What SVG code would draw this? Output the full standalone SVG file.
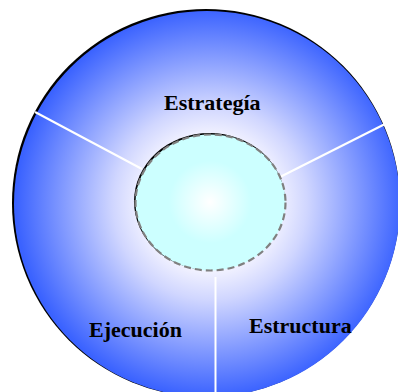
<svg xmlns="http://www.w3.org/2000/svg" width="398" height="392" viewBox="0 0 398 392">
<defs>
<radialGradient id="gOuter" gradientUnits="userSpaceOnUse" cx="210" cy="203" r="194">
<stop offset="0" stop-color="#ffffff"/>
<stop offset="0.35" stop-color="#f2f2ff"/>
<stop offset="0.5" stop-color="#d0d6ff"/>
<stop offset="1" stop-color="#3a62ff"/>
</radialGradient>
<radialGradient id="gInner" gradientUnits="userSpaceOnUse" cx="210" cy="202" r="75">
<stop offset="0" stop-color="#ffffff"/>
<stop offset="0.55" stop-color="#ccffff"/>
<stop offset="1" stop-color="#ccffff"/>
</radialGradient>
<style>
.lbl{font-family:"Liberation Serif","Times New Roman",serif;font-weight:bold;font-size:22px;fill:#000000}
.div{stroke:#ffffff;stroke-width:2;fill:none}
</style>
</defs>
<rect width="398" height="392" fill="#ffffff"/>
<g id="outer">
<circle cx="206" cy="203" r="194" fill="#000000"/>
<circle cx="207" cy="204" r="193" fill="url(#gOuter)"/>
</g>
<g id="connectors">
<line class="div" x1="35" y1="112" x2="142" y2="169"/>
<line class="div" x1="387" y1="123" x2="280" y2="177"/>
<line class="div" x1="215.5" y1="277" x2="215.5" y2="392"/>
</g>
<g id="inner">
<ellipse cx="209.5" cy="201.5" rx="75.5" ry="68.5" fill="#000000"/>
<ellipse cx="210.5" cy="202.5" rx="75" ry="68" fill="url(#gInner)" stroke="#808080" stroke-width="2.2" stroke-dasharray="7,4"/>
</g>
<g id="estrategia"><text class="lbl" x="164" y="110">Estrategía</text></g>
<g id="ejecucion"><text class="lbl" x="89" y="337">Ejecución</text></g>
<g id="estructura"><text class="lbl" x="249" y="333">Estructura</text></g>
</svg>
